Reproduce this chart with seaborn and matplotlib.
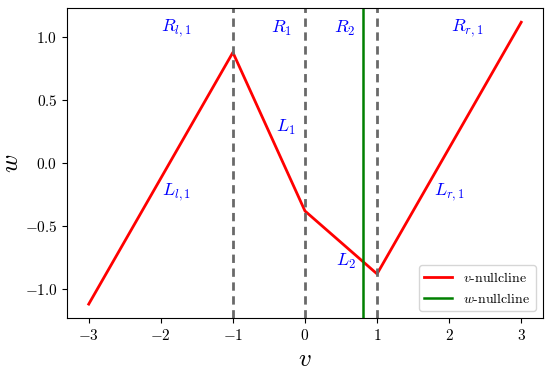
import matplotlib
matplotlib.use("Agg")
import matplotlib.pyplot as plt
import seaborn as sns
import pandas as pd

v_pts = [-3, -1, 0, 1, 3]
w_pts = [-1.12, 0.88, -0.38, -0.88, 1.12]
w_null_v = 0.8
boundaries = [-1, 0, 1]
region_labels = [r"$R_{l,1}$", r"$R_1$", r"$R_2$", r"$R_{r,1}$"]
region_pos = [(-1.78, 1.07), (-0.33, 1.07), (0.55, 1.07), (2.25, 1.07)]
line_labels = [r"$L_{l,1}$", r"$L_1$", r"$L_2$", r"$L_{r,1}$"]
line_pos = [(-1.78, -0.23), (-0.26, 0.28), (0.57, -0.78), (2.0, -0.23)]

plt.rcParams["font.family"] = "serif"
plt.rcParams["font.serif"] = ["cmr10", "DejaVu Serif"]
plt.rcParams["mathtext.fontset"] = "cm"
plt.rcParams["axes.formatter.use_mathtext"] = True
plt.rcParams["axes.unicode_minus"] = True

fig, ax = plt.subplots(figsize=(5.5, 3.7), dpi=100)
df = pd.DataFrame({"v": v_pts, "w": w_pts})
sns.lineplot(data=df, x="v", y="w", color="red", lw=2, label=r"$v$-nullcline", ax=ax)
ax.axvline(w_null_v, color="green", lw=1.8, label=r"$w$-nullcline")
for b in boundaries:
    ax.axvline(b, color="dimgray", lw=2, ls=(0, (3, 2)))
for t, (x, y) in zip(region_labels, region_pos):
    ax.text(x, y, t, color="blue", fontsize=13, ha="center", va="center")
for t, (x, y) in zip(line_labels, line_pos):
    ax.text(x, y, t, color="blue", fontsize=13, ha="center", va="center")

ax.set_xlim(-3.3, 3.3)
ax.set_ylim(-1.232, 1.232)
ax.set_xticks([-3, -2, -1, 0, 1, 2, 3])
ax.set_yticks([-1.0, -0.5, 0.0, 0.5, 1.0])
ax.set_xlabel(r"$v$", fontsize=18)
ax.set_ylabel(r"$w$", fontsize=18, labelpad=1)
ax.tick_params(labelsize=11)
ax.legend(loc="lower right", fontsize=10)
fig.subplots_adjust(left=0.122, right=0.987, top=0.978, bottom=0.14)
fig.savefig("out.png", dpi=100)
